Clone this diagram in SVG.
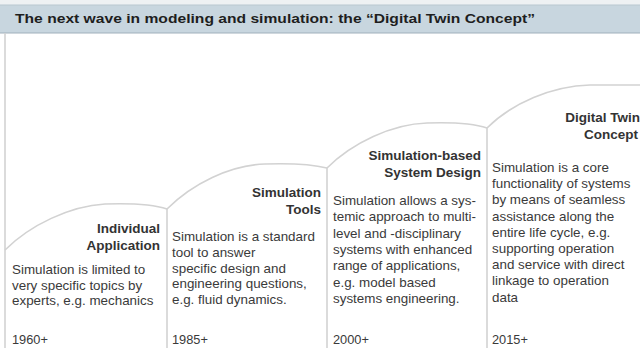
<svg xmlns="http://www.w3.org/2000/svg" width="640" height="348" viewBox="0 0 640 348">
<style>
.arc{fill:none;stroke:#d2d2d2;stroke-width:1.6}
.div{stroke:#d2d2d2;stroke-width:1.6}
.hd{font-family:"Liberation Sans",Arial,sans-serif;font-weight:bold;font-size:13.5px;fill:#333;text-anchor:end}
.bd{font-family:"Liberation Sans",Arial,sans-serif;font-size:13.4px;fill:#3a3a3a}
.yr{font-family:"Liberation Sans",Arial,sans-serif;font-size:12.8px;fill:#3a3a3a}
</style>
<rect x="0" y="0" width="640" height="348" fill="#ffffff"/>
<g id="header">
<rect x="0" y="0" width="640" height="5" fill="#eef1f3"/>
<rect x="0" y="5" width="640" height="28" fill="#c8d6df"/>
<line x1="0" y1="5" x2="640" y2="5" stroke="#b9c7d0" stroke-width="1"/>
<line x1="0" y1="33" x2="640" y2="33" stroke="#9fb0bb" stroke-width="1.2"/>
<text x="15" y="23" font-family="'Liberation Sans',Arial,sans-serif" font-weight="bold" font-size="13.5px" fill="#1e1e1e" textLength="520" lengthAdjust="spacingAndGlyphs">The next wave in modeling and simulation: the “Digital Twin Concept”</text>
</g>
<g id="connectors">
<line class="div" x1="5" y1="33" x2="5" y2="348"/>
<line class="div" x1="167" y1="209" x2="167" y2="348"/>
<line class="div" x1="327" y1="168" x2="327" y2="348"/>
<line class="div" x1="487" y1="128" x2="487" y2="348"/>
<path class="arc" d="M5,250 C30,225 70,206 105,204 C135,203 155,205 167,209"/>
<path class="arc" d="M167,209 C192,184 230,165 265,164 C295,163 315,165 327,168"/>
<path class="arc" d="M327,168 C352,143 392,124 427,123 C457,122 475,124 487,128"/>
<path class="arc" d="M487,128 C512,103 552,86 590,85 L640,85"/>
</g>
<g id="individual-application">
<text class="hd" x="160" y="233">Individual</text>
<text class="hd" x="160" y="250">Application</text>
<text class="bd" x="12" y="274">Simulation is limited to</text>
<text class="bd" x="12" y="289.5">very specific topics by</text>
<text class="bd" x="12" y="305">experts, e.g. mechanics</text>
<text class="yr" x="12" y="344">1960+</text>
</g>
<g id="simulation-tools">
<text class="hd" x="321" y="197">Simulation</text>
<text class="hd" x="321" y="214">Tools</text>
<text class="bd" x="172" y="241">Simulation is a standard</text>
<text class="bd" x="172" y="256.8">tool to answer</text>
<text class="bd" x="172" y="272.6">specific design and</text>
<text class="bd" x="172" y="288.4">engineering questions,</text>
<text class="bd" x="172" y="304.2">e.g. fluid dynamics.</text>
<text class="yr" x="172" y="344">1985+</text>
</g>
<g id="simulation-based-system-design">
<text class="hd" x="481" y="160">Simulation-based</text>
<text class="hd" x="481" y="177">System Design</text>
<text class="bd" x="333" y="205">Simulation allows a sys-</text>
<text class="bd" x="333" y="221.3">temic approach to multi-</text>
<text class="bd" x="333" y="237.6">level and -disciplinary</text>
<text class="bd" x="333" y="253.9">systems with enhanced</text>
<text class="bd" x="333" y="270.2">range of applications,</text>
<text class="bd" x="333" y="286.5">e.g. model based</text>
<text class="bd" x="333" y="302.8">systems engineering.</text>
<text class="yr" x="333" y="344">2000+</text>
</g>
<g id="digital-twin-concept">
<text class="hd" x="640" y="122">Digital Twin</text>
<text class="hd" x="638" y="139">Concept</text>
<text class="bd" x="492" y="172">Simulation is a core</text>
<text class="bd" x="492" y="188.2">functionality of systems</text>
<text class="bd" x="492" y="204.4">by means of seamless</text>
<text class="bd" x="492" y="220.6">assistance along the</text>
<text class="bd" x="492" y="236.8">entire life cycle, e.g.</text>
<text class="bd" x="492" y="253">supporting operation</text>
<text class="bd" x="492" y="269.2">and service with direct</text>
<text class="bd" x="492" y="285.4">linkage to operation</text>
<text class="bd" x="492" y="301.6">data</text>
<text class="yr" x="492" y="344">2015+</text>
</g>
</svg>
